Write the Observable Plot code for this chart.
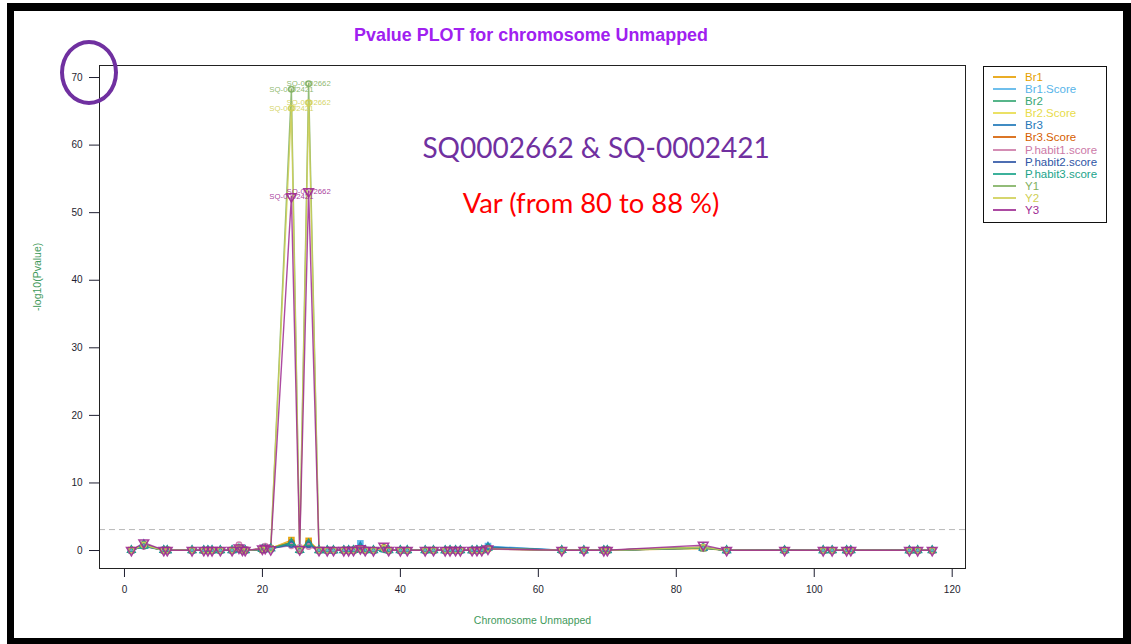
<!DOCTYPE html>
<html>
<head>
<meta charset="utf-8">
<script src="https://cdn.jsdelivr.net/npm/d3@7"></script>
<script src="https://cdn.jsdelivr.net/npm/@observablehq/plot@0.6"></script>
<style>
  html, body { margin: 0; padding: 0; background: #ffffff; }
  #page { position: relative; width: 1131px; height: 644px; overflow: hidden; background: #fff; font-family: "Liberation Sans", Arial, sans-serif; }
  #frameOuter { position: absolute; left: 7px; top: 3px; width: 1124px; height: 641px; background: #000; }
  #frameInner { position: absolute; left: 14px; top: 11px; width: 1109px; height: 627px; background: #fff; }
  #chart { position: absolute; left: 14px; top: 11px; }
  #title { position: absolute; left: 231px; width: 600px; top: 25px; line-height: 20px; text-align: center; font-weight: bold; font-size: 17.9px; color: #A020F0; }
  .note { position: absolute; transform: translate(-50%, -50%); white-space: nowrap; font-family: Lato, "Open Sans", sans-serif; }
  #legend { position: absolute; left: 983px; top: 66px; width: 124px; height: 157px; box-sizing: border-box; border: 1px solid #111; background: #fff; padding-top: 4px; }
  .lrow { height: 12.1px; line-height: 12.1px; font-size: 11.5px; white-space: nowrap; position: relative; }
  .lrow .sw { position: absolute; left: 9px; top: 5px; width: 23px; height: 2px; }
  .lrow .lt { position: absolute; left: 41px; top: 0; }
  #ring { position: absolute; left: 60px; top: 40px; width: 58px; height: 65px; box-sizing: border-box; border: 4px solid #7030A0; border-radius: 50%; }
</style>
</head>
<body>
<div id="page">
  <div id="frameOuter"></div>
  <div id="frameInner"></div>
  <div id="chart"></div>
  <div id="title"></div>
  <div id="legend"></div>
  <div id="ring"></div>
</div>
<script>
// ---- data ----
const titleText = "Pvalue PLOT for chromosome Unmapped";
const xLabel = "Chromosome Unmapped";
const yLabel = "-log10(Pvalue)";
const note1 = "SQ0002662 & SQ-0002421";
const note2 = "Var (from 80 to 88 %)";
const threshold = 3.1;
const xTicks = [0, 20, 40, 60, 80, 100, 120];
const yTicks = [0, 10, 20, 30, 40, 50, 60, 70];

const seriesNames = ["Br1", "Br1.Score", "Br2", "Br2.Score", "Br3", "Br3.Score",
  "P.habit1.score", "P.habit2.score", "P.habit3.score", "Y1", "Y2", "Y3"];
const seriesColors = ["#E69F00", "#56B4E9", "#3AA876", "#E8DC4A", "#1F78B8", "#D55E00",
  "#CC79A7", "#2E55A5", "#1AA38A", "#7FB060", "#CFCF55", "#9E2A92"];
const seriesSymbols = ["square", "square", "circle", "circle", "triangle", "circle",
  "circle", "circle", "triangle", "circle", "circle", "triangleDown"];

const positions = [
  1.0, 2.8, 5.7, 6.2, 9.8, 11.5, 12.1, 12.7,
  13.9, 15.6, 16.6, 17.1, 17.5, 20.0, 20.4, 21.2,
  24.2, 25.4, 26.7, 28.2, 29.4, 30.3, 31.8, 32.5,
  33.2, 34.2, 34.9, 36.1, 37.6, 38.3, 40.0, 41.0,
  43.6, 44.8, 46.5, 47.2, 48.0, 48.7, 50.4, 51.1,
  51.8, 52.7, 63.4, 66.6, 69.5, 70.0, 83.9, 87.3,
  95.7, 101.3, 102.6, 104.7, 105.3, 113.8, 115.0, 117.1];

const markerNames = ["SQ-0002421", "SQ-0002662"];
const markerPositions = [24.2, 26.7];
const labelledSeries = ["Y1", "Y2", "Y3"];

const Br1 = [
  0.05, 0.85, 0.04, 0.05, 0.02, 0.03, 0.02, 0.03,
  0.02, 0.05, 0.35, 0.10, 0.05, 0.10, 0.25, 0.30,
  1.55, 0.10, 1.45, 0.05, 0.03, 0.02, 0.05, 0.04,
  0.06, 0.20, 0.05, 0.04, 0.25, 0.05, 0.03, 0.02,
  0.04, 0.03, 0.02, 0.05, 0.03, 0.04, 0.02, 0.03,
  0.05, 0.35, 0.04, 0.03, 0.02, 0.05, 0.30, 0.04,
  0.03, 0.02, 0.03, 0.02, 0.04, 0.03, 0.02, 0.03];
const Br1Score = [
  0.03, 0.70, 0.05, 0.04, 0.03, 0.02, 0.04, 0.03,
  0.03, 0.04, 0.20, 0.08, 0.04, 0.15, 0.20, 0.25,
  1.10, 0.05, 1.00, 0.04, 0.02, 0.03, 0.04, 0.05,
  0.05, 1.05, 0.06, 0.03, 0.15, 0.04, 0.02, 0.03,
  0.03, 0.04, 0.03, 0.02, 0.04, 0.03, 0.05, 0.04,
  0.10, 0.65, 0.03, 0.02, 0.04, 0.06, 0.35, 0.03,
  0.02, 0.03, 0.02, 0.04, 0.03, 0.02, 0.03, 0.04];
const Br2 = [
  0.04, 0.90, 0.03, 0.04, 0.02, 0.04, 0.03, 0.02,
  0.03, 0.02, 0.25, 0.06, 0.03, 0.20, 0.30, 0.35,
  1.20, 0.06, 1.10, 0.03, 0.04, 0.02, 0.03, 0.04,
  0.04, 0.30, 0.04, 0.05, 0.20, 0.03, 0.04, 0.02,
  0.02, 0.05, 0.04, 0.03, 0.02, 0.05, 0.03, 0.02,
  0.04, 0.30, 0.02, 0.04, 0.03, 0.04, 0.40, 0.05,
  0.04, 0.02, 0.03, 0.02, 0.03, 0.04, 0.02, 0.03];
const Br2Score = [
  0.03, 0.75, 0.04, 0.03, 0.03, 0.02, 0.03, 0.04,
  0.02, 0.03, 0.30, 0.07, 0.04, 0.25, 0.30, 0.40,
  1.30, 0.08, 1.20, 0.04, 0.03, 0.04, 0.02, 0.03,
  0.05, 0.25, 0.03, 0.04, 0.30, 0.04, 0.03, 0.04,
  0.03, 0.02, 0.05, 0.04, 0.03, 0.02, 0.04, 0.03,
  0.05, 0.25, 0.03, 0.03, 0.04, 0.03, 0.45, 0.04,
  0.03, 0.04, 0.02, 0.03, 0.04, 0.02, 0.03, 0.02];
const Br3 = [
  0.04, 0.95, 0.05, 0.03, 0.04, 0.03, 0.02, 0.04,
  0.04, 0.03, 0.20, 0.05, 0.05, 0.20, 0.25, 0.30,
  1.00, 0.07, 0.95, 0.05, 0.02, 0.03, 0.05, 0.03,
  0.04, 0.60, 0.05, 0.03, 0.20, 0.05, 0.03, 0.04,
  0.04, 0.03, 0.02, 0.04, 0.05, 0.03, 0.02, 0.04,
  0.08, 0.55, 0.04, 0.03, 0.02, 0.05, 0.35, 0.03,
  0.02, 0.03, 0.04, 0.03, 0.02, 0.03, 0.04, 0.02];
const Br3Score = [
  0.05, 0.80, 0.03, 0.05, 0.03, 0.02, 0.04, 0.02,
  0.03, 0.05, 0.40, 0.08, 0.03, 0.15, 0.25, 0.30,
  1.25, 0.05, 1.15, 0.03, 0.03, 0.04, 0.03, 0.02,
  0.03, 0.25, 0.04, 0.05, 0.45, 0.03, 0.02, 0.03,
  0.05, 0.04, 0.03, 0.02, 0.04, 0.03, 0.03, 0.05,
  0.03, 0.30, 0.05, 0.04, 0.03, 0.02, 0.40, 0.04,
  0.03, 0.02, 0.04, 0.03, 0.02, 0.04, 0.03, 0.02];
const PHabit1 = [
  0.05, 0.60, 0.04, 0.05, 0.03, 0.04, 0.02, 0.03,
  0.04, 0.06, 0.85, 0.15, 0.05, 0.30, 0.65, 0.35,
  0.70, 0.45, 0.60, 0.05, 0.04, 0.03, 0.04, 0.05,
  0.04, 0.20, 0.03, 0.04, 0.35, 0.04, 0.05, 0.03,
  0.03, 0.04, 0.05, 0.03, 0.04, 0.05, 0.03, 0.04,
  0.05, 0.20, 0.04, 0.05, 0.03, 0.04, 0.55, 0.03,
  0.04, 0.03, 0.02, 0.04, 0.03, 0.05, 0.04, 0.03];
const PHabit2 = [
  0.03, 0.70, 0.03, 0.04, 0.02, 0.03, 0.03, 0.02,
  0.03, 0.04, 0.25, 0.06, 0.04, 0.15, 0.20, 0.25,
  0.90, 0.06, 0.85, 0.04, 0.03, 0.02, 0.03, 0.04,
  0.03, 0.35, 0.05, 0.03, 0.25, 0.04, 0.03, 0.02,
  0.04, 0.03, 0.04, 0.03, 0.02, 0.04, 0.05, 0.03,
  0.04, 0.40, 0.03, 0.04, 0.02, 0.03, 0.45, 0.04,
  0.03, 0.04, 0.03, 0.02, 0.04, 0.03, 0.02, 0.04];
const PHabit3 = [
  0.04, 0.65, 0.04, 0.03, 0.03, 0.02, 0.04, 0.03,
  0.03, 0.05, 0.30, 0.07, 0.03, 0.20, 0.25, 0.30,
  1.15, 0.07, 1.05, 0.03, 0.04, 0.03, 0.02, 0.04,
  0.05, 0.30, 0.04, 0.04, 0.25, 0.03, 0.04, 0.03,
  0.02, 0.04, 0.03, 0.05, 0.03, 0.04, 0.02, 0.05,
  0.03, 0.35, 0.04, 0.02, 0.04, 0.03, 0.45, 0.03,
  0.04, 0.03, 0.02, 0.03, 0.04, 0.02, 0.03, 0.04];
const Y1 = [
  0.04, 0.85, 0.03, 0.04, 0.03, 0.02, 0.03, 0.04,
  0.03, 0.04, 0.30, 0.06, 0.04, 0.20, 0.30, 0.20,
  68.27, 0.10, 69.07, 0.04, 0.03, 0.02, 0.04, 0.03,
  0.04, 0.25, 0.03, 0.05, 0.30, 0.04, 0.02, 0.03,
  0.03, 0.05, 0.04, 0.03, 0.02, 0.04, 0.03, 0.02,
  0.04, 0.30, 0.03, 0.04, 0.03, 0.05, 0.35, 0.04,
  0.03, 0.02, 0.04, 0.03, 0.02, 0.03, 0.04, 0.03];
const Y2 = [
  0.05, 0.80, 0.04, 0.03, 0.04, 0.03, 0.02, 0.03,
  0.04, 0.03, 0.35, 0.07, 0.03, 0.25, 0.35, 0.25,
  65.47, 0.12, 66.26, 0.05, 0.02, 0.04, 0.03, 0.02,
  0.03, 0.30, 0.04, 0.03, 0.35, 0.03, 0.04, 0.02,
  0.04, 0.03, 0.02, 0.04, 0.05, 0.03, 0.04, 0.03,
  0.03, 0.25, 0.04, 0.03, 0.02, 0.04, 0.50, 0.03,
  0.02, 0.04, 0.03, 0.04, 0.03, 0.02, 0.03, 0.02];
const Y3 = [
  0.04, 1.15, 0.05, 0.04, 0.03, 0.04, 0.03, 0.02,
  0.04, 0.05, 0.40, 0.08, 0.05, 0.25, 0.35, 0.15,
  52.39, 0.15, 53.13, 0.05, 0.03, 0.04, 0.02, 0.03,
  0.04, 0.30, 0.05, 0.03, 0.65, 0.05, 0.03, 0.04,
  0.03, 0.04, 0.03, 0.02, 0.04, 0.03, 0.05, 0.04,
  0.05, 0.25, 0.03, 0.04, 0.03, 0.04, 0.80, 0.05,
  0.04, 0.03, 0.02, 0.03, 0.04, 0.03, 0.02, 0.04];

const seriesValues = [Br1, Br1Score, Br2, Br2Score, Br3, Br3Score, PHabit1, PHabit2, PHabit3, Y1, Y2, Y3];

// ---- build long table ----
const rows = seriesNames.flatMap((name, s) =>
  positions.map((pos, i) => ({series: name, pos, value: seriesValues[s][i]})));

const labelRows = labelledSeries.flatMap(name => {
  const s = seriesNames.indexOf(name);
  return markerPositions.map((mp, k) => {
    const i = positions.indexOf(mp);
    return {series: name, pos: mp, value: seriesValues[s][i], label: markerNames[k]};
  });
});

// custom inverted triangle symbol
const triangleDown = {
  draw(context, size) {
    const y = -Math.sqrt(size / (Math.sqrt(3) * 3));
    context.moveTo(0, -y * 2);
    context.lineTo(-Math.sqrt(3) * y, y);
    context.lineTo(Math.sqrt(3) * y, y);
    context.closePath();
  }
};

const dotMarks = seriesNames.map((name, s) => {
  const sym = seriesSymbols[s];
  const filled = sym === "square";
  return Plot.dot(rows.filter(d => d.series === name), {
    x: "pos", y: "value",
    symbol: sym === "triangleDown" ? triangleDown : sym,
    r: sym === "square" ? 2.9 : (sym === "triangleDown" ? 3.6 : 2.7),
    stroke: seriesColors[s],
    fill: filled ? seriesColors[s] : "none",
    strokeWidth: 1.5,
    strokeOpacity: 0.9,
    fillOpacity: 0.85
  });
});

const chart = Plot.plot({
  width: 1109,
  height: 627,
  marginLeft: 85,
  marginRight: 158,
  marginTop: 54,
  marginBottom: 70,
  style: {fontFamily: "Liberation Sans, Arial, sans-serif", fontSize: "10px", color: "#1e1e30", background: "white"},
  x: {domain: [-3.62, 121.93], ticks: xTicks, tickSize: 9, tickPadding: 8, label: null, tickFormat: d => String(d)},
  y: {domain: [-2.66, 71.78], ticks: yTicks, tickSize: 10, tickPadding: 7, label: null, tickFormat: d => String(d)},
  color: {domain: seriesNames, range: seriesColors},
  marks: [
    Plot.ruleY([threshold], {stroke: "#b8b8b8", strokeWidth: 1, strokeDasharray: "6,4"}),
    Plot.line(rows, {x: "pos", y: "value", z: "series", stroke: "series", strokeWidth: 1.4, strokeOpacity: 0.85}),
    ...dotMarks,
    Plot.text(labelRows, {x: "pos", y: "value", text: "label", fill: "series", fontSize: 7.8, fillOpacity: 0.9}),
    Plot.frame({stroke: "#222", strokeWidth: 1}),
    Plot.text([xLabel], {frameAnchor: "bottom", dy: 55, fill: "#3f9a5c", fontSize: 10.5}),
    Plot.text([yLabel], {frameAnchor: "left", dx: -62, dy: -6, rotate: -90, fill: "#3f9a5c", fontSize: 10.5})
  ]
});
document.getElementById("chart").appendChild(chart);

// ---- title, notes, legend ----
document.getElementById("title").textContent = titleText;

const page = document.getElementById("page");
function addNote(text, x, y, size, color) {
  const d = document.createElement("div");
  d.className = "note";
  d.style.left = x + "px";
  d.style.top = y + "px";
  d.style.fontSize = size + "px";
  d.style.color = color;
  d.textContent = text;
  page.appendChild(d);
}
addNote(note1, 596, 147, 28, "#7030A0");
addNote(note2, 591, 202, 27.4, "#FF0000");

const legend = document.getElementById("legend");
seriesNames.forEach((name, s) => {
  const row = document.createElement("div");
  row.className = "lrow";
  const sw = document.createElement("span");
  sw.className = "sw";
  sw.style.background = seriesColors[s];
  sw.style.opacity = 0.85;
  const lt = document.createElement("span");
  lt.className = "lt";
  lt.style.color = seriesColors[s];
  lt.textContent = name;
  row.appendChild(sw);
  row.appendChild(lt);
  legend.appendChild(row);
});
</script>
</body>
</html>
